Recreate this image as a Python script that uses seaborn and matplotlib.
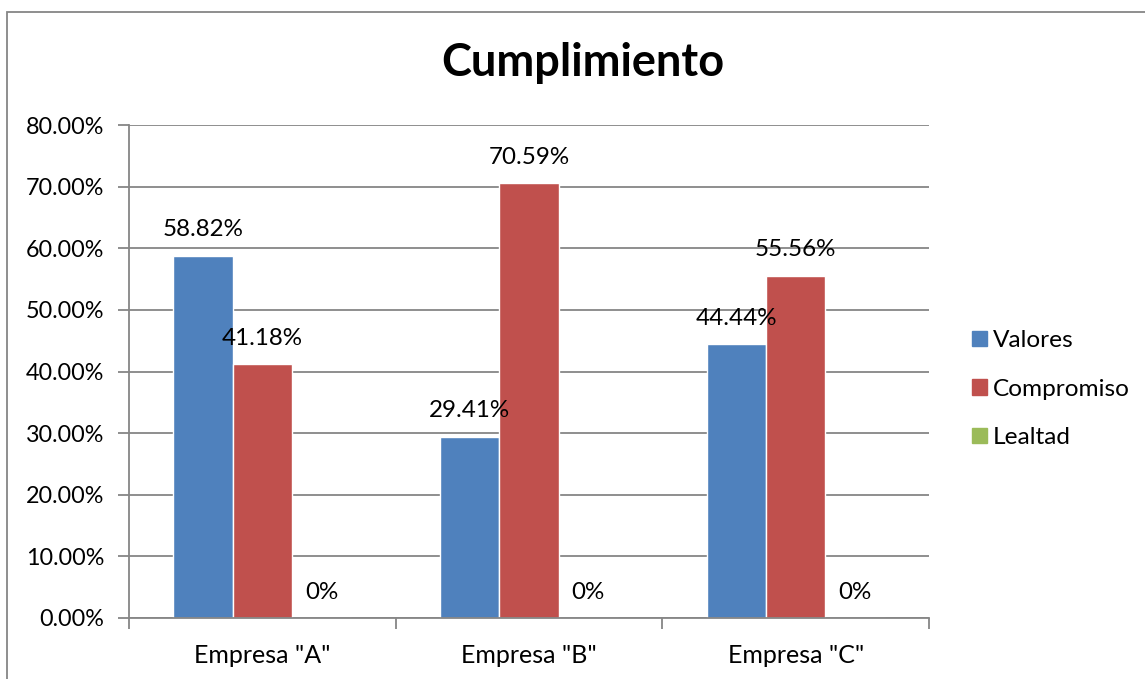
import pandas as pd
import seaborn as sns
from matplotlib import pyplot as plt
from matplotlib.patches import Rectangle
from matplotlib.ticker import FixedLocator, FuncFormatter

EMPRESAS = ['Empresa "A"', 'Empresa "B"', 'Empresa "C"']
SERIES = ['Valores', 'Compromiso', 'Lealtad']
VALORES = [0.5882, 0.2941, 0.4444]
COMPROMISO = [0.4118, 0.7059, 0.5556]
LEALTAD = [0.0, 0.0, 0.0]
COLORS = ['#4F81BD', '#C0504D', '#9BBB59']


def build_frame():
    df = pd.DataFrame({'Empresa': EMPRESAS,
                       'Valores': VALORES,
                       'Compromiso': COMPROMISO,
                       'Lealtad': LEALTAD})
    df = df.melt(id_vars='Empresa', var_name='Serie', value_name='Porcentaje')
    return df


def pct_label(v):
    if v == 0:
        return '0%'
    return f'{v * 100:.2f}%'


def main():
    df = build_frame()

    sns.set_style('white')
    plt.rcParams['font.family'] = ['Lato', 'DejaVu Sans']
    plt.rcParams['text.color'] = 'black'
    plt.rcParams['xtick.labelcolor'] = 'black'
    plt.rcParams['ytick.labelcolor'] = 'black'

    fig = plt.figure(figsize=(11.45, 6.79), dpi=100)
    ax = fig.add_axes([129 / 1145, 1 - 618 / 679, 800 / 1145, 493 / 679])

    sns.barplot(data=df, x='Empresa', y='Porcentaje', hue='Serie',
                hue_order=SERIES, palette=COLORS, width=3 / 4.5,
                saturation=1, ax=ax, legend=False)

    for container in ax.containers:
        vals = [b.get_height() for b in container]
        ax.bar_label(container, labels=[pct_label(v) for v in vals],
                     padding=11, fontsize=17.4, color='black')

    ax.set_ylim(0, 0.8)
    ax.set_xlim(-0.5, 2.5)
    ax.yaxis.set_major_locator(FixedLocator([i / 10 for i in range(9)]))
    ax.yaxis.set_major_formatter(FuncFormatter(lambda v, _: f'{v * 100:.2f}%'))
    ax.yaxis.grid(True, color='#868686', linewidth=1.3)
    ax.set_axisbelow(True)
    ax.tick_params(axis='y', which='major', left=True, length=8, width=1.3,
                   color='#868686', pad=10, labelsize=16.8)
    ax.xaxis.set_minor_locator(FixedLocator([-0.5, 0.5, 1.5, 2.5]))
    ax.tick_params(axis='x', which='major', bottom=False, length=0, pad=19,
                   labelsize=18)
    ax.tick_params(axis='x', which='minor', bottom=True, length=8, width=1.3,
                   color='#868686')
    ax.set_xlabel('')
    ax.set_ylabel('')
    for side in ('top', 'right'):
        ax.spines[side].set_visible(False)
    for side in ('left', 'bottom'):
        ax.spines[side].set_color('#868686')
        ax.spines[side].set_linewidth(1.3)

    handles = [Rectangle((0, 0), 1, 1, color=c) for c in COLORS]
    fig.legend(handles, SERIES, loc='center left',
               bbox_to_anchor=(950 / 1145, 1 - 389 / 679), frameon=False,
               fontsize=17.6, handlelength=0.6, handleheight=0.6,
               handletextpad=0.25, labelspacing=1.12)

    fig.text(583 / 1145, 1 - 63 / 679, 'Cumplimiento', ha='center', va='center',
             fontsize=32.5, fontweight='bold', color='black')

    fig.patches.append(Rectangle((7 / 1145, -0.1), 1.2, 1.1 - 12 / 679,
                                 transform=fig.transFigure, fill=False,
                                 edgecolor='#868686', linewidth=1.3))

    fig.savefig('out.png', dpi=100)


if __name__ == '__main__':
    main()
